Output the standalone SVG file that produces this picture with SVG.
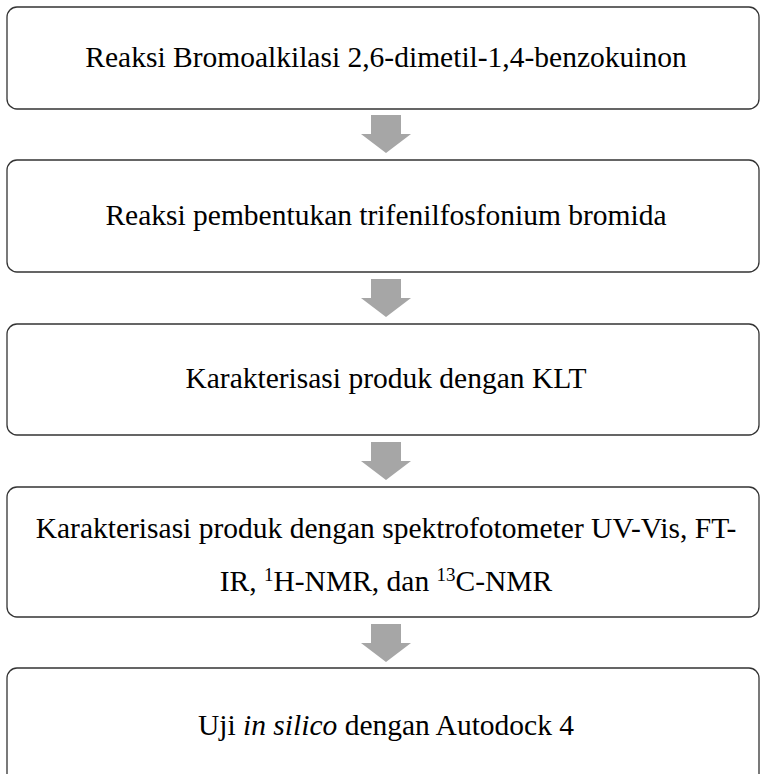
<svg xmlns="http://www.w3.org/2000/svg" xmlns:xlink="http://www.w3.org/1999/xlink" width="760" height="774" viewBox="0 0 760 774">
  <style>
    .box { fill: #ffffff; stroke: #333333; stroke-width: 1.3; }
    .lbl { font-family: "Liberation Serif", "Times New Roman", serif; font-size: 29.5px; fill: #000000; text-anchor: middle; }
    .sup { font-size: 19px; }
    .arrow { fill: #a6a6a6; }
  </style>
  <defs>
    <path id="downArrow" d="M -15 0 L 15 0 L 15 19 L 25 19 L 0 38 L -25 19 L -15 19 Z"/>
  </defs>
  <rect width="760" height="774" fill="#ffffff"/>
  <g id="connectors" class="arrow">
    <use xlink:href="#downArrow" href="#downArrow" transform="translate(386,115)"/>
    <use xlink:href="#downArrow" href="#downArrow" transform="translate(386,279)"/>
    <use xlink:href="#downArrow" href="#downArrow" transform="translate(386,442)"/>
    <use xlink:href="#downArrow" href="#downArrow" transform="translate(386,624)"/>
  </g>
  <g id="node1">
    <rect class="box" x="7" y="7" width="752" height="102" rx="10" ry="10"/>
    <text class="lbl" x="386" y="67">Reaksi Bromoalkilasi 2,6-dimetil-1,4-benzokuinon</text>
  </g>
  <g id="node2">
    <rect class="box" x="7" y="160" width="752" height="112" rx="10" ry="10"/>
    <text class="lbl" x="386" y="225">Reaksi pembentukan trifenilfosfonium bromida</text>
  </g>
  <g id="node3">
    <rect class="box" x="7" y="324" width="752" height="111" rx="10" ry="10"/>
    <text class="lbl" x="386" y="388">Karakterisasi produk dengan KLT</text>
  </g>
  <g id="node4">
    <rect class="box" x="7" y="487" width="752" height="130" rx="10" ry="10"/>
    <text class="lbl" x="386" y="538">Karakterisasi produk dengan spektrofotometer UV-Vis, FT-</text>
    <text class="lbl" x="386" y="591">IR, <tspan class="sup" dy="-10">1</tspan><tspan dy="10">H-NMR, dan </tspan><tspan class="sup" dy="-10">13</tspan><tspan dy="10">C-NMR</tspan></text>
  </g>
  <g id="node5">
    <rect class="box" x="7" y="668" width="752" height="130" rx="10" ry="10"/>
    <text class="lbl" x="386" y="735">Uji <tspan font-style="italic">in silico</tspan> dengan Autodock 4</text>
  </g>
</svg>
